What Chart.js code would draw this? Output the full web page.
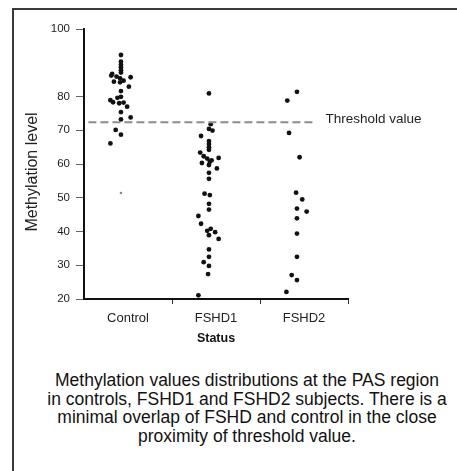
<!DOCTYPE html>
<html>
<head>
<meta charset="utf-8">
<script src="https://cdn.jsdelivr.net/npm/chart.js@4.4.1/dist/chart.umd.min.js"></script>
<style>
  html, body { margin: 0; padding: 0; background: #fff; }
  body { width: 457px; height: 471px; position: relative; overflow: hidden; font-family: "Liberation Sans", Arial, sans-serif; }
  #frame { position: absolute; left: 12px; top: 8px; width: 600px; height: 600px; border: 2px solid #3a3a3a; }
  #c { position: absolute; left: 0; top: 0; }
  #caption { position: absolute; left: 27px; width: 440px; top: 371px; text-align: center; font-size: 17.5px; line-height: 18.6px; color: #111; white-space: nowrap; }
</style>
</head>
<body>
<div id="frame"></div>
<canvas id="c" width="457" height="350"></canvas>
<div id="caption">Methylation values distributions at the PAS region<br>in controls, FSHD1 and FSHD2 subjects. There is a<br>minimal overlap of FSHD and control in the close<br>proximity of threshold value.</div>
<script>
(() => {
  'use strict';

  const categories = ['Control', 'FSHD1', 'FSHD2'];
  const yTicks = [100, 80, 70, 60, 50, 40, 30, 20];
  const threshold = 72.4;
  const thresholdSpan = [0.05, 2.62];

  // position inside each category band (0..1) and methylation value
  const controlX = [0.42, 0.42, 0.42, 0.42, 0.42, 0.42, 0.32, 0.31, 0.37, 0.41, 0.53, 0.34, 0.45, 0.41, 0.51,
    0.42, 0.42, 0.38, 0.30, 0.33, 0.45, 0.40, 0.49, 0.42, 0.42, 0.53, 0.36, 0.42, 0.30];
  const controlValues = [92.3, 90.3, 89.4, 88.6, 87.8, 87.1, 86.7, 86.2, 85.9, 85.4, 85.7, 84.4, 84.7, 84.2, 82.9,
    81.6, 79.9, 79.6, 78.9, 78.3, 78.2, 78.0, 77.0, 75.4, 73.2, 73.8, 70.1, 68.7, 66.1];
  const controlFaintX = [0.42];
  const controlFaintValues = [51.4];

  const fshd1X = [0.42, 0.44, 0.42, 0.46, 0.33, 0.42, 0.42, 0.42, 0.42, 0.32, 0.36, 0.53, 0.40, 0.45, 0.34,
    0.43, 0.42, 0.51, 0.42, 0.42, 0.37, 0.43, 0.42, 0.42, 0.30, 0.33, 0.44, 0.40, 0.49, 0.42, 0.53,
    0.42, 0.42, 0.36, 0.42, 0.41, 0.30];
  const fshd1Values = [80.9, 71.8, 70.4, 69.9, 68.3, 66.8, 65.9, 65.0, 64.2, 63.4, 62.3, 61.8, 61.6, 61.1, 60.3,
    60.7, 59.7, 58.7, 57.4, 55.6, 51.2, 50.8, 48.2, 46.5, 44.6, 42.3, 40.8, 40.2, 39.8, 38.9, 37.8,
    34.7, 32.5, 30.9, 29.8, 27.4, 21.1];

  const fshd2X = [0.42, 0.31, 0.33, 0.45, 0.41, 0.48, 0.42, 0.53, 0.42, 0.42, 0.42, 0.36, 0.42, 0.30];
  const fshd2Values = [81.4, 78.8, 69.2, 62.0, 51.5, 49.5, 46.8, 45.9, 43.9, 39.4, 32.5, 27.1, 25.6, 22.1];

  const toPoints = (cat, xs, ys) => ys.map((v, i) => ({x: cat + xs[i], y: v}));

  const textFont = '"Liberation Sans", Arial, sans-serif';

  const labelsPlugin = {
    id: 'labels',
    afterDraw(chart) {
      const {ctx, scales: {x, y}} = chart;
      ctx.save();
      ctx.fillStyle = '#222';
      ctx.font = '13.5px ' + textFont;
      ctx.textAlign = 'left';
      ctx.textBaseline = 'middle';
      ctx.fillText('Threshold value', x.getPixelForValue(thresholdSpan[1]) + 11, y.getPixelForValue(threshold) - 3);

      ctx.translate(33, 172);
      ctx.rotate(-Math.PI / 2);
      ctx.textAlign = 'center';
      ctx.font = '16px ' + textFont;
      ctx.fillText('Methylation level', 0, 0);
      ctx.restore();
    }
  };

  const dots = (data, color, r) => ({
    type: 'scatter', data, backgroundColor: color, borderWidth: 0, pointRadius: r, pointHoverRadius: r
  });

  new Chart(document.getElementById('c').getContext('2d'), {
    data: {
      datasets: [
        {
          type: 'line',
          data: thresholdSpan.map(v => ({x: v, y: threshold})),
          borderColor: '#8c8c8c',
          borderWidth: 2,
          borderDash: [8, 4],
          pointRadius: 0
        },
        dots(toPoints(0, controlX, controlValues), '#111', 2.4),
        dots(toPoints(0, controlFaintX, controlFaintValues), '#888', 1.3),
        dots(toPoints(1, fshd1X, fshd1Values), '#111', 2.4),
        dots(toPoints(2, fshd2X, fshd2Values), '#111', 2.4)
      ]
    },
    options: {
      responsive: false,
      animation: false,
      layout: {padding: {left: 0, top: 29, right: 109, bottom: 4}},
      plugins: {legend: {display: false}, tooltip: {enabled: false}},
      scales: {
        x: {
          type: 'linear',
          min: 0,
          max: 3,
          afterBuildTicks: s => { s.ticks = [0, 0.5, 1, 1.5, 2, 2.5, 3].map(v => ({value: v})); },
          afterFit: s => { s.height = 47; },
          border: {display: true, color: '#111', width: 2},
          grid: {
            drawOnChartArea: false,
            tickLength: 5,
            tickColor: c => (c.tick && c.tick.value % 1 === 0 && c.tick.value > 0) ? '#333' : 'rgba(0,0,0,0)'
          },
          ticks: {
            autoSkip: false,
            maxRotation: 0,
            padding: 7,
            color: '#222',
            font: {family: textFont, size: 13},
            callback: v => Number.isInteger(v - 0.5) ? categories[v - 0.5] : ''
          },
          title: {
            display: true,
            text: 'Status',
            color: '#111',
            font: {family: textFont, size: 12.5, weight: 'bold'},
            padding: {top: 0, bottom: 0}
          }
        },
        y: {
          type: 'linear',
          min: 20,
          max: 100,
          afterBuildTicks: s => { s.ticks = yTicks.map(v => ({value: v})); },
          afterFit: s => { s.width = 84; },
          border: {display: true, color: '#111', width: 2},
          grid: {drawOnChartArea: false, tickLength: 8, tickColor: '#666'},
          ticks: {padding: 6, color: '#222', font: {family: textFont, size: 11.5}}
        }
      }
    },
    plugins: [labelsPlugin]
  });
})();
</script>
</body>
</html>
